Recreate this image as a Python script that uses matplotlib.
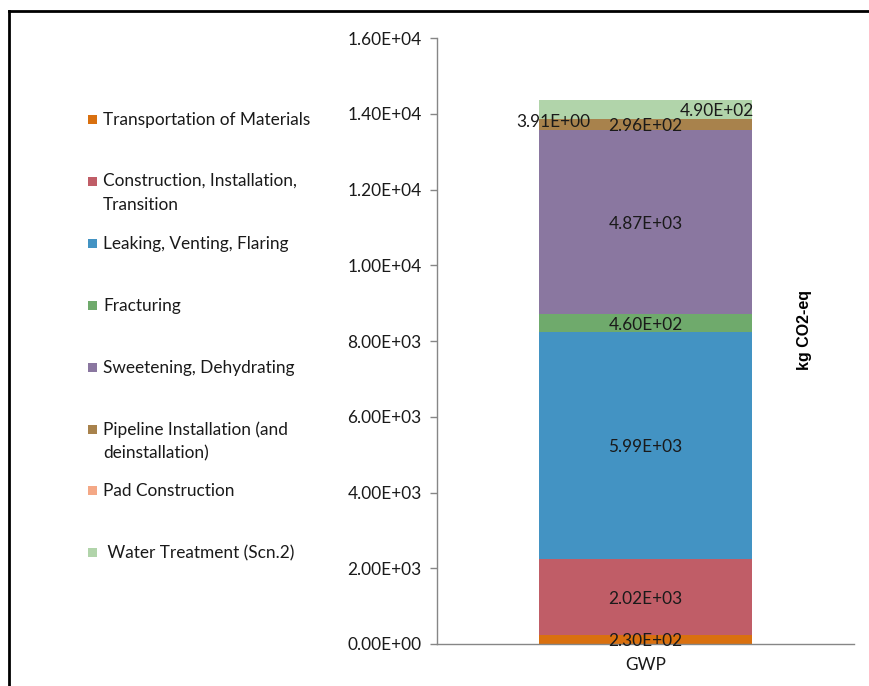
import matplotlib
matplotlib.use("Agg")
import matplotlib.pyplot as plt
from matplotlib.patches import Rectangle
from matplotlib.lines import Line2D
from matplotlib.ticker import FuncFormatter

plt.rcParams['font.family'] = ['Lato', 'DejaVu Sans']

stages = ["Transportation of Materials",
          "Construction, Installation,\nTransition",
          "Leaking, Venting, Flaring",
          "Fracturing",
          "Sweetening, Dehydrating",
          "Pipeline Installation (and\ndeinstallation)",
          "Pad Construction",
          " Water Treatment (Scn.2)"]
gwp = [2.30e2, 2.02e3, 5.99e3, 4.60e2, 4.87e3, 2.96e2, 3.91e0, 4.90e2]
colors = ["#D9700F", "#C05D67", "#4393C3", "#6FAA6C",
          "#8A77A0", "#A8824C", "#F4A886", "#B1D4AA"]
category = "GWP"

FS = 12.4

fig = plt.figure(figsize=(8.7, 6.86), dpi=100)
ax = fig.add_axes([437 / 870, 42 / 686, 417 / 870, 606 / 686])

bottom = 0.0
for name, val, col in zip(stages, gwp, colors):
    ax.bar(0, val, width=0.51, bottom=bottom, color=col, linewidth=0)
    mid = bottom + val / 2
    x = 0
    y = mid
    # the thin slices at the top get nudged apart so the labels stay readable
    if name == "Pad Construction":
        x = -0.22
        y = mid - 40
    elif name.strip().startswith("Water"):
        x = 0.17
    ax.text(x, y, "{:.2E}".format(val), ha="center", va="center_baseline",
            fontsize=FS, color="#1a1a1a")
    bottom += val

ax.set_xlim(-0.5, 0.5)
ax.set_ylim(0, 16000)
ax.set_yticks(range(0, 16001, 2000))
ax.yaxis.set_major_formatter(FuncFormatter(lambda v, p: "{:.2E}".format(v)))
ax.set_xticks([0])
ax.set_xticklabels([category])
ax.tick_params(axis="y", length=5, width=1, color="#868686",
               labelsize=FS, pad=6, labelcolor="#1a1a1a")
ax.tick_params(axis="x", length=0, labelsize=FS, pad=9, labelcolor="#1a1a1a")
for s in ("top", "right"):
    ax.spines[s].set_visible(False)
for s in ("left", "bottom"):
    ax.spines[s].set_color("#868686")
    ax.spines[s].set_linewidth(1)

fig.text(805 / 870, 1 - 330 / 686, "kg CO2-eq", rotation=90, ha="center",
         va="center", fontsize=11.5, fontweight="bold",
         family=["Liberation Sans", "DejaVu Sans"])

# hand-placed legend down the left side
row_y = [119, 181, 243, 305, 367, 429, 490, 552]
for name, col, yy in zip(stages, colors, row_y):
    fig.patches.append(Rectangle((88 / 870, 1 - (yy + 5) / 686), 9 / 870, 9 / 686,
                                 transform=fig.transFigure, color=col, lw=0))
    if "\n" in name:
        fig.text(103 / 870, 1 - (yy - 8) / 686, name, ha="left", va="top",
                 fontsize=FS, color="#1a1a1a", linespacing=1.6)
    else:
        fig.text(103 / 870, 1 - yy / 686, name, ha="left", va="center_baseline",
                 fontsize=FS, color="#1a1a1a")

# outer frame (left and top edges)
fig.lines.append(Line2D([9 / 870, 9 / 870], [0, 1 - 11 / 686],
                        transform=fig.transFigure, color="black", lw=2))
fig.lines.append(Line2D([9 / 870, 1], [1 - 11 / 686, 1 - 11 / 686],
                        transform=fig.transFigure, color="black", lw=2))

fig.savefig("out.png", dpi=100)
